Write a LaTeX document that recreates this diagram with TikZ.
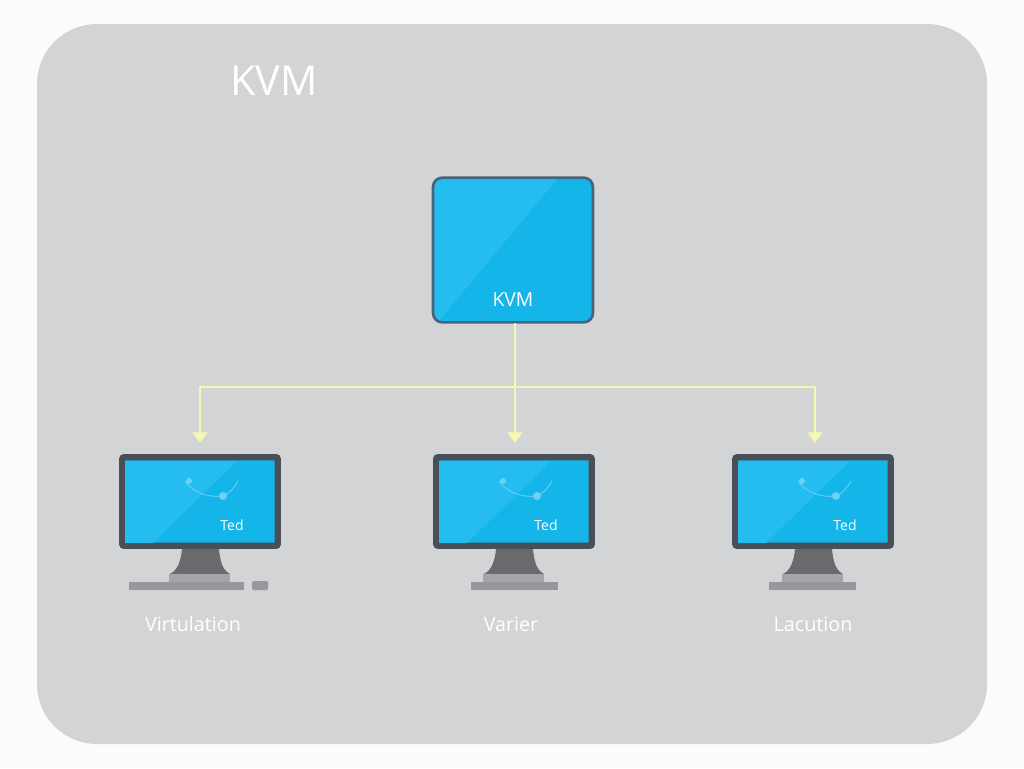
\documentclass[tikz,border=0pt]{standalone}
\usepackage{fontspec}
\setmainfont{Open Sans}
\usetikzlibrary{arrows.meta}
\definecolor{pagebg}{HTML}{FBFBFB}
\definecolor{panel}{HTML}{D3D4D6}
\definecolor{cyanbase}{HTML}{14B6EA}
\definecolor{cyanlight}{HTML}{25BCEF}
\definecolor{boxedge}{HTML}{46657A}
\definecolor{bezel}{HTML}{484F56}
\definecolor{standdark}{HTML}{686A6D}
\definecolor{standlight}{HTML}{A3A5A8}
\definecolor{basegrey}{HTML}{96989B}
\definecolor{wire}{HTML}{F6F8B0}
\definecolor{curvecol}{HTML}{6FD0F3}
\tikzset{
  x=0.75pt,y=-0.75pt,
  link/.style={draw=wire,line width=1.9pt},
  linkarrow/.style={link,-{Triangle[width=11pt,length=8pt,fill=wire]}},
  hub/.style={fill=cyanbase,rounded corners=7pt,minimum width=120pt,minimum height=108.5pt,inner sep=0pt,outer sep=0pt},
  hubedge/.style={draw=boxedge,line width=2pt,rounded corners=7pt},
  screen/.style={draw=bezel,line width=4.8pt,rounded corners=1.5pt,fill=cyanbase,minimum width=116.6pt,minimum height=66.4pt,inner sep=0pt},
  caption/.style={text=white,font=\fontsize{14.8}{16}\selectfont,inner sep=0pt},
  tedlabel/.style={text=white,font=\fontsize{10.5}{12}\selectfont,inner sep=0pt},
  hublabel/.style={text=white,font=\fontsize{14.5}{16}\selectfont,inner sep=0pt},
  titlelabel/.style={text=white,font=\fontsize{31}{35}\selectfont,inner sep=0pt},
}
% #1 node name, #2 centre x of the monitor, #3 Ted text, #4 caption, #5 caption x, #6 and #7 left and right of the base
\newcommand{\monitorunit}[7]{%
  \fill[standdark] (#2-18,549) -- (#2+19,549)
     .. controls (#2+20,560) and (#2+22,570) .. (#2+30,574) -- (#2-30,574)
     .. controls (#2-22,570) and (#2-19,560) .. (#2-18,549) -- cycle;
  \fill[standlight] (#2-31,574) rectangle (#2+30,582);
  \fill[basegrey] (#6,582) rectangle (#7,590);
  \node[screen] (#1) at (#2,501.5) {};
  \fill[cyanlight] (#2-75,461) -- (#2+37,461) -- (#2-47,543) -- (#2-75,543) -- cycle;
  \draw[curvecol,line width=0.6pt] (#2-15,481) .. controls (#2-8,492) and (#2+8,498) .. (#2+23,496)
     .. controls (#2+30,493) and (#2+34,488) .. (#2+38,481);
  \fill[curvecol] (#2-11,481) circle[radius=3];
  \fill[curvecol] (#2+23,496) circle[radius=4];
  \node[tedlabel] (#1ted) at (#2+32,525) {#3};
  \node[caption] (#1cap) at (#5,624) {#4};
}
\begin{document}
\begin{tikzpicture}
  \useasboundingbox (0,0) rectangle (1024,768);
  \fill[pagebg] (0,0) rectangle (1024,768);
  \fill[panel,rounded corners=45pt] (37,24) rectangle (987,744);
  \node[titlelabel] (title) at (274,81) {KVM};

  \node[hub] (kvm) at (513,250) {};
  \begin{scope}
    \clip[rounded corners=6pt] (433,178) rectangle (593,322);
    \fill[cyanlight] (433,178) -- (558,178) -- (438,322) -- (433,322) -- cycle;
  \end{scope}
  \draw[hubedge] (kvm.south west) rectangle (kvm.north east);
  \node[hublabel] (kvmtext) at (513,299.5) {KVM};

  \monitorunit{mona}{200}{Ted}{Virtulation}{193}{129}{244}
  \monitorunit{monb}{514}{Ted}{Varier}{511}{471}{558}
  \monitorunit{monc}{813}{Ted}{Lacution}{813}{769}{856}
  \fill[basegrey,rounded corners=1pt] (252,581) rectangle (268,590);

  \coordinate (junction) at (515,387);
  \coordinate (kvmout) at (515,323);
  \coordinate (ina) at (200,443);
  \coordinate (inb) at (515,443);
  \coordinate (inc) at (815,443);
  \draw[linkarrow] (kvmout) -- (inb);
  \draw[linkarrow] (junction) -| (ina);
  \draw[linkarrow] (junction) -| (inc);
\end{tikzpicture}
\end{document}
